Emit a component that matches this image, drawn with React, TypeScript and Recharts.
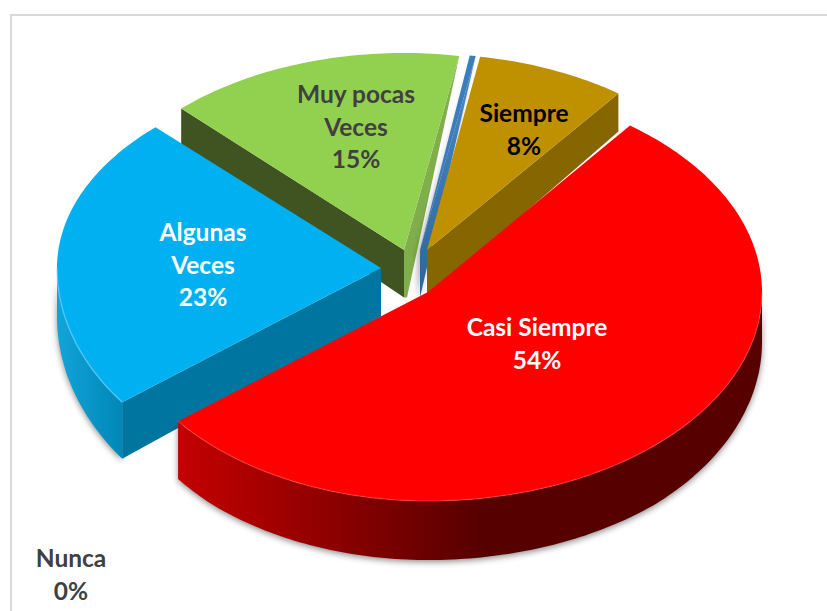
import React from 'react';
import { PieChart, Pie } from 'recharts';

// Order follows the drawing order round the pie, clockwise from the blue slice
const categories = ['Algunas\nVeces', 'Muy pocas\nVeces', 'Nunca', 'Siempre', 'Casi Siempre'];
const percents = [23, 15, 0.3, 7.6, 54];

const chartData = categories.map((name, i) => ({ name, value: percents[i] }));

// How each slice sits on the tilted plate. Offsets are from the pie centre.
const looks: Record<string, any> = {
  'Algunas\nVeces': {
    layer: 'front', x: -49, y: -22, rx: 324, ryTop: 196, ryBottom: 223, turn: 0,
    top: '#00b0f0', faces: [{ edge: 'start', fill: '#00759f', taper: 1 }],
    wall: ['#12a4da', '#0087b7'], wallStop: '100%', rim: 'rgba(120,220,255,0.5)',
    label: { x: -227, y: -26, color: '#ffffff' },
  },
  'Muy pocas\nVeces': {
    layer: 'back', x: -26, y: -40, rx: 320, ryTop: 197, ryBottom: 197, turn: 0,
    top: '#92d050',
    faces: [
      { edge: 'start', fill: '#3f5420', taper: 1 },
      { edge: 'end', fill: '#7fae4a', taper: 0, shift: 3 },
    ],
    label: { x: -74, y: -164, color: '#404040' },
  },
  Nunca: {
    layer: 'back', x: -10, y: -40, rx: 320, ryTop: 197, ryBottom: 197, turn: -1,
    top: '#3a7dbd', faces: [{ edge: 'end', fill: 'url(#sliverFace)', taper: 0 }],
    shadow: 'drop-shadow(-2px 2px 3px rgba(0,0,0,0.35))',
    label: { x: -359, y: 284, color: '#404040' },
  },
  Siempre: {
    layer: 'back', x: -3, y: -40, rx: 318, ryTop: 196, ryBottom: 196, turn: -1.4,
    top: '#bf9000', faces: [{ edge: 'end', fill: '#856600', taper: 1 }],
    label: { x: 94, y: -161, color: '#000000' },
  },
  'Casi Siempre': {
    layer: 'front', x: -2, y: 2, rx: 334, rxLeft: 318, ryTop: 209, ryBottom: 209, turn: -1.2,
    top: '#ff0000', faces: [],
    wall: ['#c40000', '#570000'], wallStop: '52%', rim: 'rgba(255,110,110,0.3)',
    label: { x: 107, y: 53, color: '#ffffff' },
  },
};

const rad = (d: number) => (d * Math.PI) / 180;
const drop = (y: number) => Math.min(59, 36 + 0.06 * (y - 60));

const rimPoint = (look: any, cx: number, cy: number, a: number) => {
  const s = Math.sin(rad(a));
  const c = Math.cos(rad(a));
  const ry = c >= 0 ? look.ryTop : look.ryBottom;
  const rx = s < 0 && look.rxLeft ? look.rxLeft : look.rx;
  return [cx + look.x + rx * s, cy + look.y - ry * c];
};

const arcPoints = (look: any, cx: number, cy: number, a1: number, a2: number) => {
  const pts = [];
  const steps = Math.max(2, Math.ceil(Math.abs(a2 - a1)));
  for (let i = 0; i <= steps; i++) pts.push(rimPoint(look, cx, cy, a1 + ((a2 - a1) * i) / steps));
  return pts;
};

const toPath = (pts: number[][], close = true) =>
  pts.map((p, i) => `${i ? 'L' : 'M'}${p[0].toFixed(1)},${p[1].toFixed(1)}`).join(' ') + (close ? ' Z' : '');

const SliceShape = (layer: string) => (props: any) => {
  const { cx, cy, startAngle, endAngle, name } = props;
  const look = looks[name];
  if (look.layer !== layer) return <g />;
  // recharts angles run counter-clockwise from 3 o'clock; here clockwise from 12
  let a1 = 90 - startAngle + look.turn;
  let a2 = 90 - endAngle + look.turn;
  if (a1 >= 360) {
    a1 -= 360;
    a2 -= 360;
  }
  const tip = [cx + look.x, cy + look.y];
  const arc = arcPoints(look, cx, cy, a1, a2);
  const from = Math.max(a1, 90);
  const to = Math.min(a2, 270);
  const wallArc = look.wall && to > from ? arcPoints(look, cx, cy, from, to) : null;
  const gradId = `wall-${props.index}`;
  return (
    <g>
      <defs>
        <linearGradient id="sliverFace" x1="0" y1="0" x2="0" y2="1">
          <stop offset="0%" stopColor="#4a8bca" />
          <stop offset="100%" stopColor="#2e6598" />
        </linearGradient>
        {wallArc && (
          <linearGradient id={gradId} x1="0" y1="0" x2="1" y2="0">
            <stop offset="0%" stopColor={look.wall[0]} />
            <stop offset={look.wallStop} stopColor={look.wall[1]} />
          </linearGradient>
        )}
      </defs>
      {wallArc && (
        <path
          d={toPath([...wallArc, ...wallArc.slice().reverse().map((p) => [p[0], p[1] + drop(p[1])])])}
          fill={`url(#${gradId})`}
          style={{ filter: 'drop-shadow(0 2px 3px rgba(0,0,0,0.45))' }}
        />
      )}
      {look.faces.map((f: any) => {
        const rim = f.edge === 'start' ? arc[0] : arc[arc.length - 1];
        const foot = tip[1] + drop(tip[1]);
        return (
          <path
            key={f.edge}
            d={toPath([
              tip,
              rim,
              [rim[0], rim[1] + drop(rim[1]) * f.taper],
              [tip[0] + (f.shift || 0), foot],
              [tip[0], foot],
            ])}
            fill={f.fill}
            style={look.shadow ? { filter: look.shadow } : undefined}
          />
        );
      })}
      <path d={toPath([tip, ...arc])} fill={look.top} />
      {wallArc && <path d={toPath(wallArc, false)} fill="none" stroke={look.rim} strokeWidth={1.5} />}
    </g>
  );
};

const renderLabel = (props: any) => {
  const { cx, cy, name, percent } = props;
  const look = looks[name].label;
  const lines = [...name.split('\n'), `${Math.round(percent * 100)}%`];
  const top = cy + look.y - ((lines.length - 1) * 32.5) / 2;
  return (
    <g>
      {lines.map((line: string, i: number) => (
        <text
          key={i}
          x={cx + look.x}
          y={top + i * 32.5}
          textAnchor="middle"
          dominantBaseline="central"
          fontFamily="Lato"
          fontWeight={700}
          fontSize={24.5}
          fill={look.color}
        >
          {line}
        </text>
      ))}
    </g>
  );
};

export default function App() {
  return (
    <div style={{ position: 'absolute', left: 0, top: 0, width: 827, height: 611, overflow: 'hidden', background: '#fff' }}>
      {/* frame of the pasted chart, runs off the right and bottom edges */}
      <div style={{ position: 'absolute', left: 10, top: 14, width: 900, height: 700, border: '2px solid #d9d9d9' }} />
      <div style={{ position: 'absolute', left: 0, top: 0 }}>
        <PieChart width={827} height={611} margin={{ top: 0, right: 0, bottom: 0, left: 0 }}>
          <Pie
            data={chartData}
            dataKey="value"
            nameKey="name"
            cx={430}
            cy={290}
            outerRadius={100}
            startAngle={-143}
            endAngle={-503}
            stroke="none"
            shape={SliceShape('back')}
            isAnimationActive={false}
          />
          <Pie
            data={chartData}
            dataKey="value"
            nameKey="name"
            cx={430}
            cy={290}
            outerRadius={100}
            startAngle={-143}
            endAngle={-503}
            stroke="none"
            shape={SliceShape('front')}
            label={renderLabel}
            labelLine={false}
            isAnimationActive={false}
          />
        </PieChart>
      </div>
    </div>
  );
}
